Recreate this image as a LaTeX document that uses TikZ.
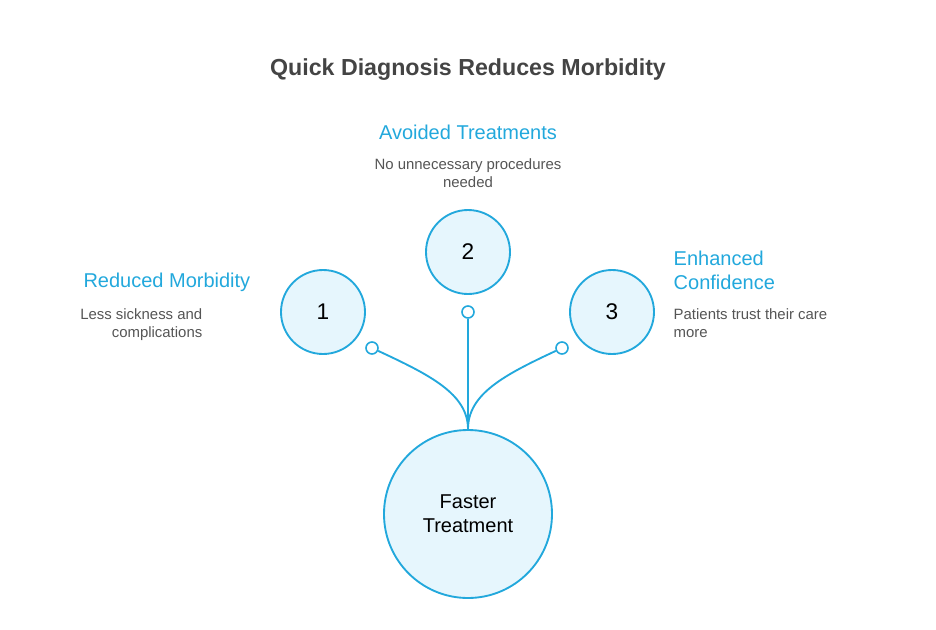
\documentclass[tikz,border=0pt]{standalone}
\usepackage{fontspec}
\setmainfont{Liberation Sans}
\usetikzlibrary{positioning}

\definecolor{linkblue}{HTML}{22A8DC}
\definecolor{softfill}{HTML}{E6F6FD}
\definecolor{headtext}{HTML}{444444}
\definecolor{desctext}{HTML}{555555}

\begin{document}
\begin{tikzpicture}[
        x=0.75pt, y=-0.75pt,
        bubble/.style={circle, draw=linkblue, fill=softfill, line width=1.4pt, minimum size=63pt, inner sep=0pt, font=\fontsize{17}{20}\selectfont},
        hub/.style={bubble, minimum size=126pt, align=center, font=\fontsize{15}{18}\selectfont},
        tip/.style={circle, draw=linkblue, fill=white, line width=1.2pt, minimum size=9pt, inner sep=0pt},
        heading/.style={text=linkblue, font=\fontsize{15}{18}\selectfont},
        desc/.style={text=desctext, font=\fontsize{11.2}{13.5}\selectfont},
        link/.style={draw=linkblue, line width=1.4pt}
    ]
        \useasboundingbox (0,0) rectangle (936,629);

        % Title
        \node[font=\bfseries\fontsize{17.4}{20}\selectfont, text=headtext] (title) at (468,70) {Quick Diagnosis Reduces Morbidity};

        % Circles
        \node[bubble] (one) at (323,312) {1};
        \node[bubble] (two) at (468,252) {2};
        \node[bubble] (three) at (612,312) {3};
        \node[hub, text depth=-3pt] (faster) at (468,514) {Faster\\Treatment};

        % Connector ends
        \node[tip] (t1) at (372,348) {};
        \node[tip] (t2) at (468,312) {};
        \node[tip] (t3) at (562,348) {};

        \draw[link] (t1) .. controls +(58,27) and +(0,-35) .. (faster.north);
        \draw[link] (t2) -- (faster.north);
        \draw[link] (t3) .. controls +(-58,27) and +(0,-35) .. (faster.north);

        % Labels
        \node[heading, anchor=east] (morb) at (255,282) {Reduced Morbidity};
        \node[desc, anchor=north east, align=right] (morbtxt) at (207,304) {Less sickness and\\complications};

        \node[heading] (avoid) at (468,132) {Avoided Treatments};
        \node[desc, anchor=north, align=center] (avoidtxt) at (468,154) {No unnecessary procedures\\needed};

        \node[heading, anchor=west, align=left] (conf) at (669,270) {Enhanced\\Confidence};
        \node[desc, anchor=north west, align=left] (conftxt) at (669,304) {Patients trust their care\\more};

    \end{tikzpicture}
\end{document}
